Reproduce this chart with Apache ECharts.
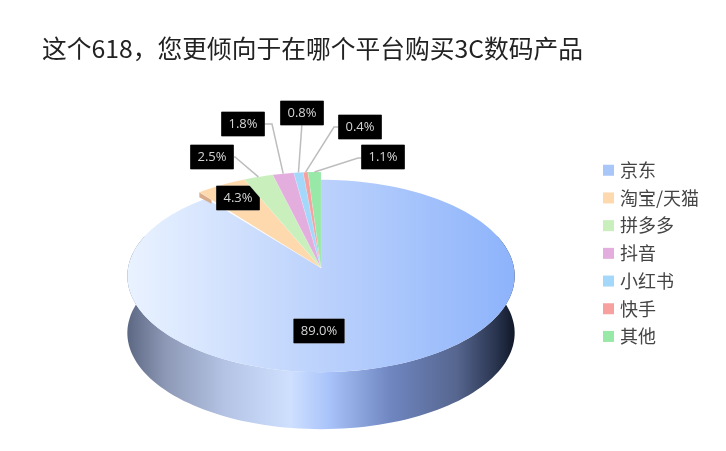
<!DOCTYPE html>
<html><head><meta charset="utf-8">
<style>html,body{margin:0;padding:0;background:#fff}#c{width:726px;height:451px;filter:blur(0.5px)}</style>
<script src="https://cdn.jsdelivr.net/npm/echarts@6/dist/echarts.min.js"></script>
</head><body><div id="c"></div>
<script>
const categories = ['京东','淘宝/天猫','拼多多','抖音','小红书','快手','其他'];
const seriesValues = [89.0,4.3,2.5,1.8,0.8,0.4,1.1];
const titleText = '这个618，您更倾向于在哪个平台购买3C数码产品';

const colors = ['#a9c6f8','#fdd9ad','#c8efbc','#e3aede','#a3d8fb','#f7a0a0','#98e8a8'];
const legendFont = 'Noto Sans CJK SC';
const view = {cx:321, cy:268, R:193, H:95.5, k:0.083, depth:57, liftR:1.06, liftH:1.09};
const labelBoxes = [[319,331],[238,198],[212,157],[243,124],[302,113],[360,127],[383,157]];
const elbows = [null,null,[235,157],[272,124],[302,123],[334,127],[358,158]];

const total = seriesValues.reduce((a,b)=>a+b,0);
const startOf = i => seriesValues.slice(0,i).reduce((a,b)=>a+b,0)/total*360;
function proj(deg,lift){
  const t=deg*Math.PI/180,u=Math.sin(t),v=Math.cos(t),s=1/(1+view.k*v);
  return [view.cx+view.R*u*s*(lift?view.liftR:1), view.cy-view.H*v*s*(lift?view.liftH:1)];
}
function arc(a,b,lift){const p=[];const n=Math.max(2,Math.ceil((b-a)/2));
  for(let i=0;i<=n;i++)p.push(proj(a+(b-a)*i/n,lift));return p;}
const grad=(stops)=>new echarts.graphic.LinearGradient(0,0,1,0,stops.map(s=>({offset:s[0],color:s[1]})));

function renderItem(i){return function(params,api){
  const val=api.value(0), a=startOf(i), b=a+val/total*360, mid=(a+b)/2;
  const tip=[view.cx,view.cy], children=[];
  if(i===0){
    const rim=arc(70,290,false), low=rim.map(p=>[p[0],p[1]+view.depth]).reverse();
    children.push({type:'polygon',shape:{points:rim.concat(low)},style:{fill:grad([
      [0,'#5c6883'],[0.1,'#8d99b6'],[0.25,'#b4c3e4'],[0.42,'#cfe0ff'],[0.52,'#a9c4fa'],
      [0.68,'#6f86c0'],[0.85,'#56668f'],[0.95,'#2a3550'],[1,'#101828']])}});
    children.push({type:'polygon',shape:{points:[tip].concat(arc(a,b,false))},
      style:{fill:grad([[0,'#e9f2ff'],[0.5,'#bcd2fc'],[1,'#8db3fb']])}});
  } else {
    if(i===1){
      const r=proj(a,true), e=[r[0]+(tip[0]-r[0])*0.1,r[1]+(tip[1]-r[1])*0.1];
      children.push({type:'polygon',shape:{points:[r,[r[0],r[1]+5],[e[0],e[1]+4],e]},style:{fill:'#d9ad8c'}});
    }
    children.push({type:'polygon',shape:{points:[tip].concat(arc(a,b,true))},
      style:{fill:colors[i],stroke:'rgba(255,255,255,0.25)',lineWidth:0.5}});
  }
  const box=labelBoxes[i], elbow=elbows[i];
  if(elbow){
    const r=proj(mid,true);
    children.push({type:'polyline',z2:90,shape:{points:[r,elbow,[box[0],elbow[1]]]},
      style:{fill:null,stroke:'#bdbdbd',lineWidth:1.5}});
  }
  children.push({type:'text',z2:100,x:box[0],y:box[1],style:{
    text:val.toFixed(1)+'%',font:'13px "Open Sans", "Noto Sans"',fill:'#d4d4d4',
    align:'center',verticalAlign:'middle',backgroundColor:'#000',borderColor:'#555',borderWidth:0.5,
    padding:[6,7,5,7]}});
  return {type:'group',children};
};}

const chart=echarts.init(document.getElementById('c'));
chart.setOption({
  animation:false,
  title:{text:titleText,left:37,top:31,textStyle:{fontFamily:'Noto Sans CJK SC',fontSize:24.75,fontWeight:'normal',color:'#222'}},
  legend:{orient:'vertical',left:598,top:155,icon:'rect',itemWidth:11,itemHeight:11,itemGap:7.2,
    data:categories,textStyle:{fontFamily:legendFont,fontSize:18,color:'#444',padding:[0,0,0,1],lineHeight:20.5}},
  series:categories.map((name,i)=>({
    type:'custom',name,coordinateSystem:'none',z:2+i,
    itemStyle:{color:colors[i]},
    data:[[seriesValues[i]]],
    renderItem:renderItem(i),
    silent:true
  }))
});
</script></body></html>
